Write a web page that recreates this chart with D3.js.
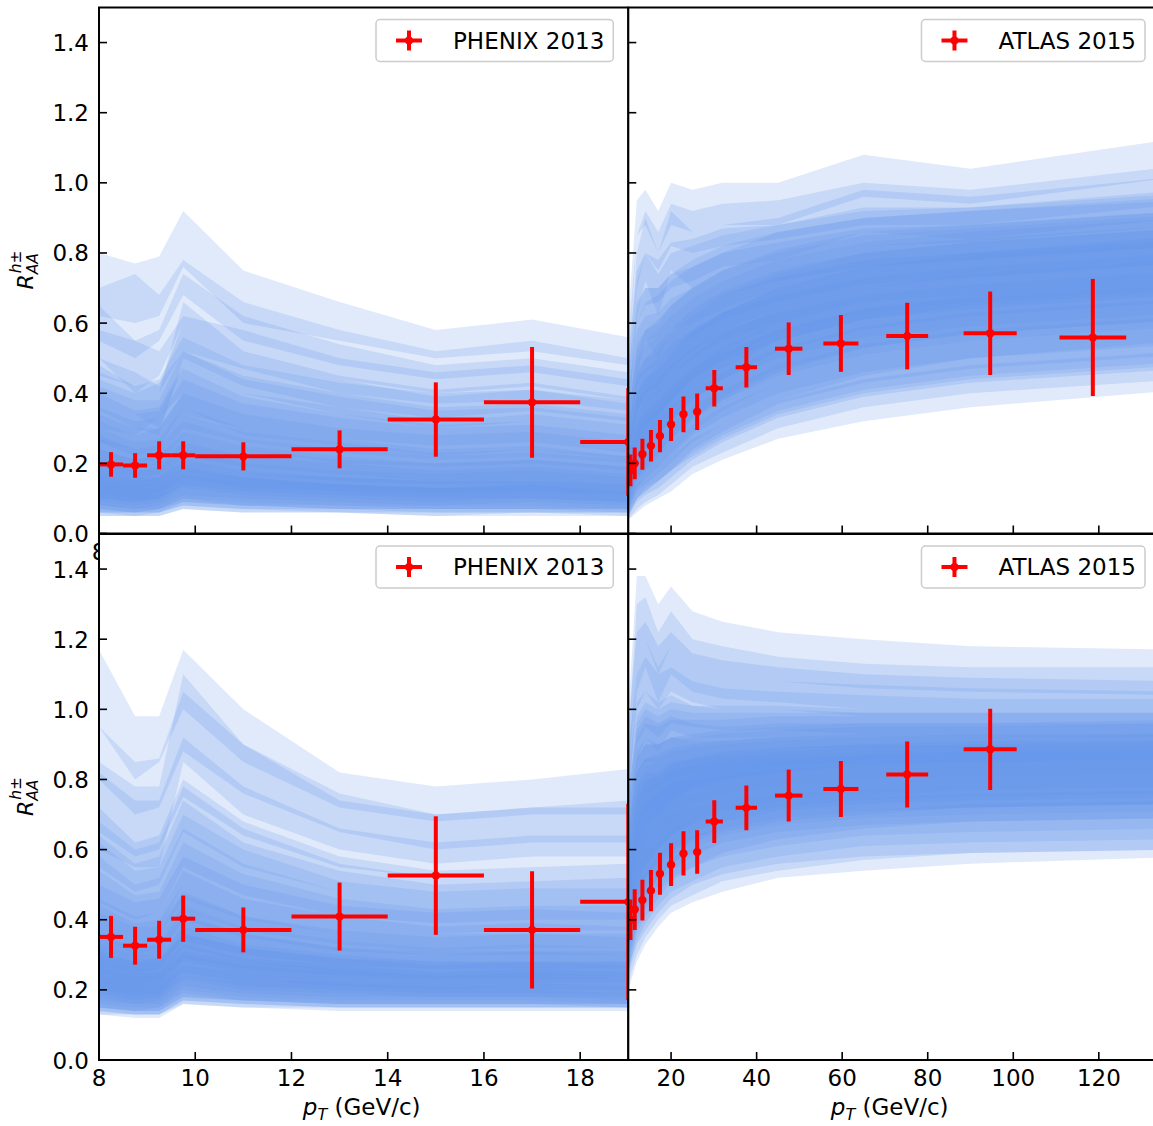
<!DOCTYPE html>
<html>
<head>
<meta charset="utf-8">
<script src="https://cdn.jsdelivr.net/npm/d3@7"></script>
<style>
  body { margin: 0; background: #fff; }
  text { font-family: "DejaVu Sans", sans-serif; fill: #000; }
</style>
</head>
<body>
<svg id="chart" width="1153" height="1126"></svg>
<script>
// ---- data ----

// PHENIX 2013 points (left panels)
const phenixPt = [8.25, 8.75, 9.25, 9.75, 11, 13, 15, 17, 19];
const phenixPtErr = [0.25, 0.25, 0.25, 0.25, 1, 1, 1, 1, 1];
const phenixTop = [0.197, 0.194, 0.223, 0.223, 0.22, 0.24, 0.325, 0.374, 0.261];
const phenixTopErr = [0.035, 0.035, 0.04, 0.04, 0.04, 0.054, 0.106, 0.158, 0.153];
const phenixBottom = [0.351, 0.326, 0.343, 0.403, 0.371, 0.409, 0.526, 0.371, 0.451];
const phenixBottomErr = [0.06, 0.054, 0.054, 0.066, 0.064, 0.097, 0.169, 0.167, 0.28];

// ATLAS 2015 points (right panels)
const atlasPt = [10.5, 11.5, 13.3, 15.3, 17.4, 20.0, 22.9, 26.1, 30.1, 37.6, 47.5, 59.7, 75.2, 94.6, 118.6];
const atlasPtErr = [0, 0, 0, 0, 0, 0, 0, 0, 2, 2.5, 3.2, 4.1, 4.9, 6.2, 7.8];
const atlasTop = [0.18, 0.20, 0.226, 0.25, 0.278, 0.311, 0.34, 0.347, 0.414, 0.474, 0.527, 0.542, 0.563, 0.571, 0.559];
const atlasTopErr = [0.045, 0.045, 0.044, 0.045, 0.046, 0.047, 0.051, 0.052, 0.052, 0.058, 0.075, 0.081, 0.095, 0.119, 0.167];
const atlasBottom = [0.40, 0.429, 0.456, 0.483, 0.531, 0.557, 0.589, 0.593, 0.68, 0.719, 0.754, 0.773, 0.814, 0.886];
const atlasBottomErr = [0.058, 0.058, 0.058, 0.059, 0.06, 0.061, 0.063, 0.062, 0.061, 0.064, 0.074, 0.08, 0.094, 0.116];

// model bands: pT nodes, then [lower, upper] per band
const bandPtLeft = [8, 8.75, 9.25, 9.75, 11, 13, 15, 17, 19];
const bandPtRight = [10, 12, 14, 17, 20, 25, 32, 45, 65, 90, 140];

const bandsTopLeft = [
  [[0.62,0.60,0.62,0.76,0.60,0.55,0.50,0.52,0.48],[0.80,0.77,0.79,0.92,0.75,0.66,0.58,0.61,0.56]],
  [[0.55,0.50,0.55,0.68,0.55,0.48,0.44,0.46,0.42],[0.70,0.74,0.68,0.78,0.66,0.58,0.52,0.55,0.50]],
  [[0.45,0.42,0.40,0.52,0.47,0.40,0.37,0.38,0.35],[0.58,0.55,0.52,0.62,0.58,0.50,0.46,0.48,0.44]],
  [[0.38,0.34,0.30,0.48,0.40,0.34,0.30,0.32,0.29],[0.50,0.46,0.42,0.60,0.50,0.44,0.39,0.41,0.37]],
  [[0.30,0.28,0.33,0.40,0.34,0.30,0.27,0.28,0.25],[0.44,0.40,0.43,0.52,0.45,0.40,0.36,0.37,0.34]],
  [[0.26,0.22,0.24,0.36,0.28,0.25,0.22,0.24,0.21],[0.38,0.34,0.35,0.47,0.39,0.34,0.31,0.32,0.29]],
  [[0.20,0.18,0.20,0.28,0.24,0.20,0.19,0.20,0.18],[0.32,0.28,0.30,0.40,0.34,0.30,0.27,0.28,0.25]],
  [[0.16,0.14,0.15,0.22,0.19,0.17,0.15,0.16,0.14],[0.28,0.24,0.25,0.34,0.29,0.26,0.23,0.24,0.22]],
  [[0.12,0.11,0.12,0.18,0.15,0.13,0.12,0.13,0.12],[0.24,0.21,0.22,0.29,0.25,0.22,0.20,0.21,0.19]],
  [[0.10,0.09,0.10,0.14,0.12,0.11,0.10,0.11,0.10],[0.20,0.18,0.19,0.25,0.21,0.19,0.17,0.18,0.16]],
  [[0.08,0.07,0.08,0.11,0.10,0.09,0.08,0.09,0.08],[0.17,0.15,0.16,0.21,0.18,0.16,0.15,0.16,0.14]],
  [[0.06,0.06,0.06,0.09,0.08,0.07,0.07,0.07,0.06],[0.14,0.13,0.13,0.17,0.15,0.14,0.13,0.13,0.12]],
  [[0.05,0.05,0.05,0.07,0.06,0.06,0.05,0.05,0.05],[0.12,0.11,0.11,0.14,0.12,0.11,0.10,0.11,0.10]],
  [[0.07,0.06,0.07,0.10,0.08,0.08,0.07,0.07,0.07],[0.22,0.19,0.20,0.26,0.22,0.20,0.18,0.19,0.17]],
  [[0.09,0.08,0.09,0.13,0.11,0.10,0.09,0.10,0.09],[0.30,0.26,0.27,0.36,0.30,0.27,0.24,0.25,0.22]],
  [[0.35,0.30,0.28,0.50,0.42,0.36,0.33,0.35,0.32],[0.48,0.42,0.40,0.66,0.52,0.45,0.41,0.43,0.39]],
  [[0.14,0.13,0.14,0.20,0.17,0.15,0.14,0.14,0.13],[0.36,0.32,0.33,0.44,0.37,0.33,0.30,0.31,0.28]],
  [[0.50,0.40,0.45,0.60,0.50,0.44,0.40,0.42,0.38],[0.65,0.55,0.58,0.74,0.62,0.54,0.48,0.50,0.46]],
  [[0.06,0.05,0.06,0.08,0.07,0.07,0.06,0.06,0.06],[0.18,0.16,0.16,0.20,0.17,0.16,0.15,0.15,0.14]],
  [[0.22,0.20,0.21,0.30,0.26,0.23,0.21,0.22,0.20],[0.42,0.38,0.38,0.52,0.44,0.39,0.35,0.36,0.33]],
  [[0.06,0.06,0.06,0.08,0.07,0.06,0.06,0.06,0.06],[0.20,0.18,0.18,0.24,0.20,0.18,0.17,0.18,0.16]],
  [[0.08,0.07,0.07,0.10,0.09,0.08,0.08,0.08,0.07],[0.24,0.21,0.22,0.28,0.24,0.21,0.20,0.21,0.19]],
  [[0.05,0.05,0.05,0.07,0.06,0.06,0.05,0.06,0.05],[0.16,0.14,0.15,0.19,0.16,0.14,0.13,0.14,0.13]],
  [[0.10,0.09,0.10,0.14,0.12,0.11,0.10,0.10,0.09],[0.27,0.24,0.25,0.32,0.27,0.24,0.22,0.23,0.21]],
  [[0.07,0.06,0.07,0.09,0.08,0.07,0.07,0.07,0.07],[0.15,0.14,0.14,0.18,0.16,0.14,0.13,0.14,0.12]],
  [[0.18,0.16,0.17,0.25,0.21,0.19,0.17,0.18,0.16],[0.40,0.35,0.36,0.48,0.40,0.36,0.32,0.34,0.31]],
  [[0.26,0.24,0.25,0.34,0.30,0.27,0.25,0.26,0.23],[0.46,0.42,0.44,0.56,0.48,0.43,0.40,0.41,0.38]],
  [[0.12,0.10,0.11,0.16,0.13,0.12,0.11,0.12,0.11],[0.34,0.30,0.30,0.40,0.34,0.30,0.28,0.29,0.26]]
];

const bandsBottomLeft = [
  [[0.95,0.80,0.85,1.00,0.85,0.72,0.68,0.70,0.70],[1.17,0.98,0.98,1.17,1.00,0.82,0.78,0.80,0.83]],
  [[0.80,0.70,0.72,0.88,0.76,0.65,0.60,0.62,0.62],[0.95,0.85,0.86,1.05,0.90,0.76,0.70,0.72,0.72]],
  [[0.65,0.58,0.60,0.75,0.64,0.55,0.52,0.54,0.54],[0.82,0.74,0.74,0.92,0.78,0.66,0.62,0.64,0.64]],
  [[0.55,0.48,0.50,0.65,0.55,0.48,0.45,0.46,0.46],[0.72,0.62,0.64,0.80,0.68,0.58,0.54,0.55,0.56]],
  [[0.45,0.40,0.42,0.55,0.47,0.41,0.39,0.40,0.40],[0.62,0.54,0.55,0.70,0.60,0.51,0.48,0.49,0.49]],
  [[0.38,0.34,0.35,0.46,0.40,0.36,0.34,0.35,0.34],[0.54,0.47,0.48,0.62,0.53,0.46,0.43,0.44,0.44]],
  [[0.32,0.29,0.30,0.40,0.35,0.31,0.30,0.30,0.30],[0.46,0.41,0.42,0.54,0.46,0.41,0.38,0.39,0.38]],
  [[0.27,0.25,0.26,0.34,0.30,0.27,0.26,0.26,0.26],[0.40,0.36,0.37,0.47,0.41,0.36,0.34,0.35,0.34]],
  [[0.23,0.21,0.22,0.29,0.26,0.24,0.23,0.23,0.23],[0.35,0.32,0.33,0.41,0.36,0.32,0.30,0.31,0.30]],
  [[0.20,0.18,0.19,0.25,0.22,0.21,0.20,0.20,0.20],[0.31,0.28,0.29,0.36,0.32,0.29,0.27,0.28,0.27]],
  [[0.17,0.16,0.16,0.21,0.19,0.18,0.18,0.18,0.17],[0.27,0.25,0.25,0.31,0.28,0.26,0.24,0.25,0.24]],
  [[0.15,0.14,0.14,0.18,0.17,0.16,0.16,0.16,0.15],[0.24,0.22,0.22,0.27,0.25,0.23,0.22,0.22,0.21]],
  [[0.13,0.13,0.13,0.16,0.15,0.15,0.15,0.15,0.15],[0.21,0.20,0.20,0.24,0.22,0.21,0.20,0.20,0.19]],
  [[0.14,0.13,0.13,0.17,0.16,0.15,0.15,0.15,0.15],[0.33,0.30,0.30,0.38,0.33,0.30,0.28,0.28,0.28]],
  [[0.18,0.16,0.17,0.23,0.20,0.19,0.18,0.18,0.18],[0.44,0.39,0.40,0.50,0.43,0.38,0.36,0.36,0.36]],
  [[0.25,0.22,0.23,0.32,0.28,0.25,0.24,0.24,0.24],[0.58,0.50,0.52,0.66,0.56,0.48,0.45,0.46,0.46]],
  [[0.15,0.14,0.15,0.19,0.17,0.16,0.16,0.16,0.16],[0.28,0.26,0.26,0.33,0.29,0.27,0.25,0.26,0.25]],
  [[0.35,0.30,0.32,0.42,0.37,0.33,0.31,0.32,0.32],[0.68,0.60,0.62,0.78,0.66,0.56,0.52,0.54,0.54]],
  [[0.60,0.55,0.55,0.85,0.70,0.60,0.56,0.58,0.58],[0.85,0.78,0.78,1.10,0.90,0.74,0.70,0.72,0.74]],
  [[0.20,0.19,0.19,0.26,0.23,0.21,0.20,0.21,0.20],[0.38,0.34,0.35,0.44,0.38,0.34,0.32,0.33,0.32]],
  [[0.14,0.13,0.13,0.17,0.16,0.15,0.15,0.15,0.15],[0.26,0.24,0.24,0.30,0.27,0.25,0.24,0.24,0.23]],
  [[0.16,0.15,0.15,0.20,0.18,0.17,0.17,0.17,0.16],[0.30,0.28,0.28,0.35,0.31,0.28,0.27,0.27,0.27]],
  [[0.13,0.12,0.12,0.16,0.15,0.14,0.14,0.14,0.14],[0.23,0.21,0.21,0.26,0.23,0.22,0.21,0.21,0.20]],
  [[0.19,0.17,0.18,0.24,0.21,0.20,0.19,0.19,0.19],[0.36,0.32,0.33,0.42,0.36,0.32,0.31,0.31,0.31]],
  [[0.22,0.20,0.21,0.28,0.25,0.23,0.22,0.22,0.22],[0.42,0.38,0.38,0.48,0.41,0.37,0.35,0.36,0.35]],
  [[0.28,0.25,0.26,0.35,0.31,0.28,0.27,0.27,0.27],[0.50,0.45,0.46,0.58,0.50,0.44,0.42,0.43,0.42]],
  [[0.15,0.14,0.14,0.18,0.17,0.16,0.16,0.16,0.16],[0.32,0.29,0.29,0.36,0.32,0.29,0.28,0.28,0.28]],
  [[0.40,0.36,0.37,0.50,0.43,0.38,0.36,0.37,0.37],[0.64,0.56,0.58,0.74,0.62,0.54,0.50,0.51,0.52]]
];

const bandsTopRight = [
  [[0.45,0.85,0.88,0.80,0.88,0.86,0.88,0.88,0.96,0.94,1.02],[0.62,0.95,0.98,0.92,1.00,0.98,1.00,1.00,1.08,1.04,1.13]],
  [[0.40,0.70,0.80,0.75,0.82,0.80,0.82,0.84,0.88,0.88,0.94],[0.55,0.85,0.92,0.86,0.94,0.92,0.94,0.95,1.00,0.98,1.05]],
  [[0.35,0.60,0.65,0.66,0.70,0.72,0.76,0.78,0.82,0.83,0.88],[0.50,0.75,0.80,0.78,0.83,0.84,0.87,0.88,0.92,0.93,0.98]],
  [[0.30,0.50,0.55,0.56,0.60,0.64,0.68,0.72,0.76,0.78,0.82],[0.45,0.66,0.70,0.70,0.74,0.76,0.80,0.83,0.87,0.88,0.92]],
  [[0.25,0.42,0.46,0.48,0.52,0.56,0.61,0.66,0.71,0.73,0.77],[0.40,0.58,0.62,0.63,0.67,0.70,0.74,0.78,0.82,0.84,0.88]],
  [[0.20,0.35,0.38,0.40,0.45,0.50,0.55,0.60,0.66,0.68,0.72],[0.35,0.50,0.54,0.56,0.60,0.64,0.68,0.73,0.78,0.80,0.84]],
  [[0.16,0.28,0.31,0.34,0.38,0.44,0.49,0.55,0.61,0.64,0.68],[0.30,0.44,0.47,0.50,0.54,0.58,0.63,0.68,0.73,0.76,0.80]],
  [[0.12,0.22,0.25,0.28,0.32,0.38,0.44,0.50,0.56,0.59,0.63],[0.26,0.38,0.41,0.44,0.48,0.53,0.58,0.63,0.68,0.71,0.75]],
  [[0.09,0.17,0.20,0.23,0.27,0.33,0.38,0.45,0.51,0.55,0.59],[0.22,0.32,0.35,0.38,0.42,0.47,0.52,0.58,0.64,0.67,0.71]],
  [[0.07,0.13,0.16,0.19,0.22,0.28,0.33,0.40,0.46,0.50,0.54],[0.18,0.27,0.30,0.33,0.36,0.41,0.46,0.53,0.59,0.63,0.67]],
  [[0.05,0.10,0.12,0.15,0.18,0.23,0.28,0.35,0.41,0.45,0.49],[0.15,0.22,0.25,0.28,0.31,0.36,0.41,0.48,0.54,0.58,0.62]],
  [[0.04,0.07,0.09,0.11,0.14,0.19,0.23,0.30,0.36,0.40,0.44],[0.12,0.18,0.20,0.23,0.26,0.31,0.36,0.43,0.49,0.53,0.57]],
  [[0.04,0.06,0.08,0.10,0.12,0.17,0.21,0.27,0.32,0.36,0.41],[0.10,0.14,0.16,0.19,0.22,0.27,0.31,0.38,0.44,0.48,0.52]],
  [[0.06,0.12,0.14,0.17,0.20,0.26,0.31,0.38,0.45,0.50,0.55],[0.25,0.40,0.45,0.48,0.52,0.58,0.63,0.70,0.76,0.80,0.85]],
  [[0.10,0.20,0.24,0.28,0.32,0.40,0.46,0.54,0.60,0.64,0.68],[0.32,0.52,0.58,0.60,0.65,0.70,0.75,0.81,0.86,0.88,0.92]],
  [[0.08,0.15,0.18,0.22,0.26,0.32,0.38,0.46,0.53,0.57,0.61],[0.28,0.45,0.50,0.52,0.57,0.62,0.68,0.74,0.80,0.83,0.87]],
  [[0.30,0.62,0.72,0.62,0.75,0.70,0.74,0.78,0.86,0.84,0.90],[0.48,0.80,0.90,0.80,0.92,0.86,0.88,0.90,0.98,0.96,1.02]],
  [[0.05,0.09,0.11,0.13,0.16,0.21,0.26,0.33,0.39,0.43,0.47],[0.20,0.30,0.34,0.37,0.41,0.47,0.53,0.60,0.66,0.70,0.74]],
  [[0.12,0.26,0.30,0.33,0.38,0.45,0.52,0.60,0.66,0.70,0.74],[0.38,0.60,0.66,0.68,0.72,0.76,0.80,0.86,0.90,0.92,0.96]],
  [[0.06,0.10,0.13,0.15,0.18,0.22,0.27,0.34,0.40,0.44,0.48],[0.16,0.24,0.27,0.30,0.34,0.40,0.46,0.54,0.60,0.64,0.68]],
  [[0.10,0.20,0.24,0.28,0.32,0.38,0.44,0.52,0.58,0.62,0.66],[0.30,0.46,0.50,0.54,0.58,0.64,0.69,0.75,0.80,0.83,0.87]],
  [[0.14,0.26,0.30,0.34,0.38,0.44,0.50,0.57,0.63,0.66,0.70],[0.36,0.54,0.58,0.61,0.65,0.70,0.75,0.80,0.85,0.87,0.91]],
  [[0.08,0.16,0.19,0.23,0.27,0.33,0.39,0.47,0.53,0.57,0.61],[0.26,0.40,0.44,0.47,0.51,0.57,0.63,0.70,0.76,0.79,0.83]],
  [[0.07,0.13,0.16,0.19,0.23,0.29,0.35,0.43,0.49,0.53,0.57],[0.22,0.34,0.38,0.41,0.45,0.51,0.57,0.64,0.70,0.74,0.78]],
  [[0.18,0.34,0.40,0.42,0.47,0.52,0.58,0.64,0.70,0.73,0.77],[0.42,0.64,0.70,0.70,0.74,0.78,0.82,0.86,0.90,0.92,0.95]],
  [[0.05,0.10,0.12,0.15,0.18,0.24,0.29,0.37,0.43,0.47,0.51],[0.18,0.28,0.32,0.35,0.39,0.45,0.51,0.58,0.64,0.68,0.72]],
  [[0.12,0.22,0.26,0.30,0.35,0.41,0.47,0.55,0.61,0.65,0.69],[0.33,0.50,0.55,0.58,0.62,0.67,0.72,0.78,0.83,0.86,0.90]],
  [[0.22,0.45,0.55,0.50,0.58,0.60,0.64,0.70,0.76,0.78,0.82],[0.45,0.72,0.80,0.74,0.80,0.82,0.85,0.88,0.93,0.93,0.97]]
];

const bandsBottomRight = [
  [[0.80,1.15,1.20,1.10,1.18,1.12,1.10,1.08,1.06,1.05,1.04],[1.00,1.38,1.38,1.30,1.35,1.28,1.25,1.22,1.20,1.18,1.17]],
  [[0.75,1.00,1.05,1.00,1.05,1.02,1.00,1.00,0.98,0.98,0.98],[0.95,1.22,1.25,1.18,1.22,1.16,1.14,1.12,1.10,1.09,1.08]],
  [[0.65,0.90,0.95,0.92,0.96,0.95,0.94,0.94,0.93,0.93,0.93],[0.88,1.10,1.15,1.10,1.12,1.08,1.06,1.05,1.04,1.03,1.03]],
  [[0.60,0.80,0.85,0.85,0.88,0.88,0.88,0.89,0.89,0.89,0.89],[0.82,1.02,1.05,1.02,1.04,1.01,1.00,1.00,0.99,0.99,0.99]],
  [[0.55,0.72,0.76,0.78,0.80,0.82,0.83,0.84,0.85,0.85,0.86],[0.76,0.94,0.98,0.96,0.98,0.96,0.95,0.96,0.96,0.96,0.96]],
  [[0.50,0.65,0.70,0.72,0.75,0.77,0.78,0.80,0.81,0.82,0.83],[0.70,0.88,0.92,0.90,0.92,0.91,0.91,0.92,0.92,0.93,0.93]],
  [[0.45,0.58,0.63,0.66,0.69,0.72,0.74,0.76,0.78,0.79,0.80],[0.65,0.82,0.86,0.86,0.88,0.88,0.88,0.89,0.90,0.90,0.91]],
  [[0.40,0.52,0.57,0.60,0.64,0.67,0.70,0.72,0.74,0.75,0.76],[0.60,0.76,0.80,0.81,0.83,0.84,0.85,0.86,0.87,0.88,0.88]],
  [[0.36,0.47,0.52,0.56,0.60,0.63,0.66,0.69,0.71,0.72,0.73],[0.55,0.70,0.74,0.76,0.79,0.80,0.81,0.83,0.84,0.85,0.86]],
  [[0.32,0.42,0.47,0.52,0.56,0.59,0.62,0.65,0.67,0.69,0.70],[0.50,0.65,0.69,0.72,0.75,0.76,0.78,0.80,0.81,0.82,0.83]],
  [[0.29,0.38,0.43,0.48,0.52,0.55,0.58,0.61,0.64,0.65,0.66],[0.46,0.60,0.64,0.67,0.70,0.72,0.74,0.76,0.78,0.79,0.80]],
  [[0.26,0.34,0.39,0.44,0.48,0.51,0.55,0.58,0.61,0.62,0.63],[0.42,0.55,0.59,0.62,0.66,0.68,0.70,0.73,0.75,0.76,0.77]],
  [[0.22,0.30,0.35,0.40,0.44,0.47,0.51,0.54,0.57,0.59,0.60],[0.38,0.50,0.54,0.58,0.62,0.64,0.66,0.69,0.71,0.73,0.74]],
  [[0.20,0.28,0.33,0.38,0.42,0.45,0.48,0.52,0.54,0.56,0.58],[0.34,0.45,0.50,0.54,0.58,0.60,0.62,0.65,0.67,0.69,0.70]],
  [[0.30,0.45,0.50,0.54,0.58,0.62,0.65,0.68,0.70,0.72,0.73],[0.58,0.78,0.82,0.82,0.85,0.86,0.87,0.88,0.89,0.90,0.90]],
  [[0.34,0.50,0.55,0.60,0.64,0.68,0.71,0.74,0.76,0.78,0.79],[0.64,0.86,0.90,0.90,0.92,0.93,0.94,0.95,0.96,0.96,0.97]],
  [[0.25,0.36,0.41,0.46,0.51,0.55,0.59,0.63,0.66,0.68,0.69],[0.50,0.68,0.73,0.76,0.79,0.81,0.83,0.85,0.87,0.88,0.89]],
  [[0.70,1.05,1.12,1.02,1.10,1.05,1.03,1.02,1.00,1.00,1.00],[0.92,1.30,1.32,1.22,1.28,1.20,1.18,1.15,1.13,1.12,1.12]],
  [[0.42,0.60,0.66,0.70,0.74,0.78,0.80,0.82,0.84,0.85,0.86],[0.75,0.96,1.00,0.98,1.00,0.99,0.99,0.99,0.99,0.99,0.99]],
  [[0.24,0.33,0.37,0.42,0.46,0.50,0.53,0.56,0.58,0.59,0.60],[0.44,0.58,0.62,0.66,0.70,0.72,0.74,0.76,0.77,0.78,0.79]],
  [[0.36,0.50,0.55,0.60,0.64,0.68,0.71,0.73,0.75,0.77,0.78],[0.66,0.86,0.90,0.90,0.92,0.92,0.93,0.94,0.95,0.95,0.96]],
  [[0.30,0.44,0.50,0.55,0.59,0.63,0.66,0.69,0.71,0.72,0.73],[0.60,0.80,0.84,0.85,0.88,0.89,0.90,0.91,0.92,0.92,0.93]],
  [[0.40,0.56,0.62,0.66,0.70,0.73,0.76,0.78,0.80,0.81,0.82],[0.70,0.92,0.96,0.95,0.97,0.97,0.97,0.98,0.98,0.98,0.98]],
  [[0.26,0.38,0.44,0.50,0.54,0.58,0.62,0.65,0.67,0.68,0.69],[0.54,0.72,0.77,0.79,0.82,0.84,0.86,0.87,0.88,0.89,0.89]],
  [[0.44,0.62,0.68,0.70,0.74,0.77,0.80,0.82,0.84,0.85,0.86],[0.74,0.98,1.02,1.00,1.02,1.01,1.01,1.01,1.00,1.00,1.00]],
  [[0.32,0.46,0.52,0.57,0.61,0.65,0.68,0.71,0.73,0.74,0.75],[0.62,0.82,0.86,0.87,0.89,0.90,0.91,0.92,0.93,0.93,0.93]],
  [[0.28,0.40,0.46,0.52,0.56,0.60,0.64,0.67,0.69,0.70,0.71],[0.56,0.74,0.79,0.81,0.84,0.86,0.88,0.89,0.90,0.91,0.91]],
  [[0.55,0.85,0.92,0.88,0.94,0.92,0.92,0.92,0.92,0.92,0.92],[0.85,1.15,1.20,1.12,1.18,1.12,1.10,1.08,1.07,1.06,1.05]]
];

const yTicks = [0, 0.2, 0.4, 0.6, 0.8, 1.0, 1.2, 1.4];
const xTicksLeft = [8, 10, 12, 14, 16, 18];
const xTicksRight = [20, 40, 60, 80, 100, 120];

// ---- layout ----
const svg = d3.select('#chart');
const colLeft = [99, 628.3];
const colRight = [628.3, 1160];
const rowTop = [7.5, 533.5];
const rowBottom = [534, 1060];
const BAND_COLOR = '#6495ED';
const FONT = 23;

// top panels: only the "8" peeks out from under the lower panel
const panels = [
    { id: 'tl', cols: colLeft, rows: rowTop, xDom: [8, 19], nodes: bandPtLeft, bands: bandsTopLeft,
      pt: phenixPt, ptErr: phenixPtErr, val: phenixTop, err: phenixTopErr, label: 'PHENIX 2013',
      xTicks: xTicksLeft, xLabels: [8], yLabels: true, xTitle: false },
    { id: 'tr', cols: colRight, rows: rowTop, xDom: [10, 134.3], nodes: bandPtRight, bands: bandsTopRight,
      pt: atlasPt, ptErr: atlasPtErr, val: atlasTop, err: atlasTopErr, label: 'ATLAS 2015',
      xTicks: xTicksRight, xLabels: [], yLabels: false, xTitle: false },
    { id: 'bl', cols: colLeft, rows: rowBottom, xDom: [8, 19], nodes: bandPtLeft, bands: bandsBottomLeft,
      pt: phenixPt, ptErr: phenixPtErr, val: phenixBottom, err: phenixBottomErr, label: 'PHENIX 2013',
      xTicks: xTicksLeft, xLabels: xTicksLeft, yLabels: true, xTitle: true },
    { id: 'br', cols: colRight, rows: rowBottom, xDom: [10, 134.3], nodes: bandPtRight, bands: bandsBottomRight,
      pt: atlasPt, ptErr: atlasPtErr, val: atlasBottom, err: atlasBottomErr, label: 'ATLAS 2015',
      xTicks: xTicksRight, xLabels: xTicksRight, yLabels: false, xTitle: true }
];

panels.forEach(p => drawPanel(p));

function drawPanel(p) {
    const x = d3.scaleLinear().domain(p.xDom).range(p.cols);
    const y = d3.scaleLinear().domain([0, 1.5]).range([p.rows[1], p.rows[0]]);
    const [x0, x1] = p.cols;
    const [y0, y1] = p.rows;
    const g = svg.append('g').attr('class', 'panel-' + p.id);

    // white axes background covers whatever spilled from earlier panels
    g.append('rect').attr('x', x0).attr('y', y0).attr('width', x1 - x0).attr('height', y1 - y0).attr('fill', '#fff');

    g.append('clipPath').attr('id', 'clip-' + p.id)
        .append('rect').attr('x', x0).attr('y', y0).attr('width', x1 - x0).attr('height', y1 - y0);
    const plot = g.append('g').attr('clip-path', `url(#clip-${p.id})`);

    // model bands
    const area = d3.area()
        .x((d, i) => x(p.nodes[i]))
        .y0(d => y(d[0]))
        .y1(d => y(d[1]));
    p.bands.forEach(b => {
        const pts = b[0].map((lo, i) => [lo, b[1][i]]);
        plot.append('path').attr('d', area(pts)).attr('fill', BAND_COLOR).attr('fill-opacity', 0.2);
    });

    // data points with error bars
    const pts = p.val.map((v, i) => ({ x: p.pt[i], xe: p.ptErr[i], y: v, ye: p.err[i] }));
    const eb = plot.append('g').attr('stroke', '#ff0000').attr('stroke-width', 4);
    pts.forEach(d => {
        eb.append('line').attr('x1', x(d.x)).attr('x2', x(d.x)).attr('y1', y(d.y - d.ye)).attr('y2', y(d.y + d.ye));
        if (d.xe > 0) {
            eb.append('line').attr('x1', x(d.x - d.xe)).attr('x2', x(d.x + d.xe)).attr('y1', y(d.y)).attr('y2', y(d.y));
        }
    });
    plot.append('g').selectAll('circle').data(pts).enter().append('circle')
        .attr('cx', d => x(d.x)).attr('cy', d => y(d.y)).attr('r', 4.2).attr('fill', '#ff0000');

    // spines
    const spine = g.append('g').attr('stroke', '#000').attr('stroke-width', 2).attr('fill', 'none');
    spine.append('path').attr('d', `M${x1},${y0}H${x0}V${y1}H${x1}V${y0}`);

    // ticks, pointing inward
    const tk = g.append('g').attr('stroke', '#000').attr('stroke-width', 1.6);
    p.xTicks.forEach(t => {
        tk.append('line').attr('x1', x(t)).attr('x2', x(t)).attr('y1', y1).attr('y2', y1 - 8);
    });
    yTicks.forEach(t => {
        tk.append('line').attr('x1', x0).attr('x2', x0 + 8).attr('y1', y(t)).attr('y2', y(t));
    });

    // tick labels
    g.append('g').selectAll('text').data(p.xLabels).enter().append('text')
        .attr('x', d => x(d)).attr('y', y1 + 26).attr('text-anchor', 'middle')
        .style('font-size', FONT + 'px').text(d => d);
    if (p.yLabels) {
        g.append('g').selectAll('text').data(yTicks).enter().append('text')
            .attr('x', x0 - 10).attr('y', d => y(d) + 8.5).attr('text-anchor', 'end')
            .style('font-size', FONT + 'px').text(d => d.toFixed(1));

        // y title R_AA^{h±}
        const cy = (y0 + y1) / 2;
        const yt = g.append('g').attr('transform', `translate(33,${cy}) rotate(-90)`);
        const r = yt.append('text').style('font-size', '22px').style('font-style', 'italic').text('R');
        const sub = yt.append('text').style('font-size', '15.5px').style('font-style', 'italic').text('AA');
        const sup = yt.append('text').style('font-size', '15.5px');
        sup.append('tspan').style('font-style', 'italic').text('h');
        sup.append('tspan').text('±');
        const wr = r.node().getComputedTextLength();
        const ws = Math.max(sub.node().getComputedTextLength(), sup.node().getComputedTextLength());
        const start = -(wr + ws) / 2;
        r.attr('x', start).attr('y', 0);
        sub.attr('x', start + wr).attr('y', 5);
        sup.attr('x', start + wr + 1).attr('y', -12);
    }

    if (p.xTitle) {
        const t = g.append('text').attr('x', (x0 + Math.min(x1, 1155)) / 2 - 2).attr('y', y1 + 55)
            .attr('text-anchor', 'middle').style('font-size', FONT + 'px');
        t.append('tspan').style('font-style', 'italic').text('p');
        t.append('tspan').style('font-style', 'italic').style('font-size', '16px').attr('dy', 5).text('T');
        t.append('tspan').attr('dy', -5).text(' (GeV/c)');
    }

    // legend
    const lg = g.append('g');
    const rect = lg.append('rect');
    const txt = lg.append('text').style('font-size', FONT + 'px').text(p.label);
    const tw = txt.node().getComputedTextLength();
    const bw = tw + 86, bh = 42;
    const bx = x1 - 15 - bw, by = y0 + 12;
    rect.attr('x', bx).attr('y', by).attr('width', bw).attr('height', bh).attr('rx', 4)
        .attr('fill', '#fff').attr('fill-opacity', 0.8).attr('stroke', '#cccccc').attr('stroke-width', 1.5);
    txt.attr('x', bx + 77).attr('y', by + 29);
    const mx = bx + 33, my = by + 21;
    const mk = lg.append('g').attr('stroke', '#ff0000').attr('stroke-width', 4);
    mk.append('line').attr('x1', mx - 13).attr('x2', mx + 13).attr('y1', my).attr('y2', my);
    mk.append('line').attr('x1', mx).attr('x2', mx).attr('y1', my - 10).attr('y2', my + 10);
    lg.append('circle').attr('cx', mx).attr('cy', my).attr('r', 4).attr('fill', '#ff0000');
}
</script>
</body>
</html>
